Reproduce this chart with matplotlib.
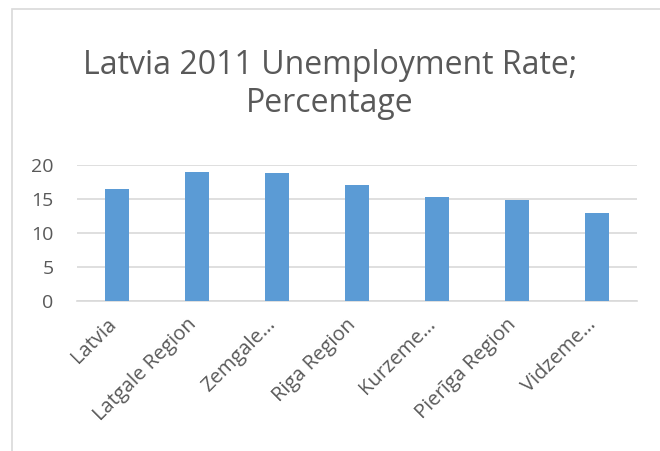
import numpy as np
import matplotlib
matplotlib.use('Agg')
import matplotlib.pyplot as plt
from matplotlib.patches import Rectangle
from matplotlib.transforms import ScaledTranslation

# data
regions = ['Latvia', 'Latgale Region', 'Zemgale…', 'Riga Region',
           'Kurzeme…', 'Pierīga Region', 'Vidzeme…']
rates = [16.5, 19.0, 18.8, 17.0, 15.3, 14.8, 12.9]
yticks = [0, 5, 10, 15, 20]

plt.rcParams['font.family'] = ['Open Sans', 'DejaVu Sans']
txt = '#595959'

fig = plt.figure(figsize=(6.6, 4.51), dpi=100)
# chart border (runs off the right and bottom edges)
fig.patches.append(Rectangle((12 / 660, -0.05), 1.0, 1 - 9 / 451 + 0.05,
                             transform=fig.transFigure, fill=False,
                             edgecolor='#d9d9d9', linewidth=1.2))

ax = fig.add_axes([77 / 660, 1 - 300.7 / 451, 560 / 660, 136 / 451])
x = np.arange(len(regions))
ax.bar(x, rates, width=0.3, color='#5b9bd5', zorder=3)
ax.set_xlim(-0.5, len(regions) - 0.5)
ax.set_ylim(0, 20)
ax.set_yticks(yticks)
ax.set_xticks(x)
ax.set_xticklabels(regions, rotation=45, ha='right', rotation_mode='anchor')
ax.tick_params(axis='both', length=0, colors=txt, labelsize=14)
ax.tick_params(axis='x', labelsize=14.5, pad=10)
ax.tick_params(axis='y', pad=17)
shift = ScaledTranslation(-11 / 100, 0, fig.dpi_scale_trans)
for lab in ax.get_xticklabels():
    lab.set_transform(lab.get_transform() + shift)
ax.grid(axis='y', color='#d9d9d9', linewidth=1.2, zorder=0)
for s in ['top', 'right', 'left']:
    ax.spines[s].set_visible(False)
ax.spines['bottom'].set_color('#d9d9d9')
ax.spines['bottom'].set_linewidth(1.2)

fig.text(0.5, 1 - 84 / 451, 'Latvia 2011 Unemployment Rate;\nPercentage',
         ha='center', va='center', fontsize=23, color=txt, linespacing=1.2)

fig.savefig('out.png', dpi=100)
